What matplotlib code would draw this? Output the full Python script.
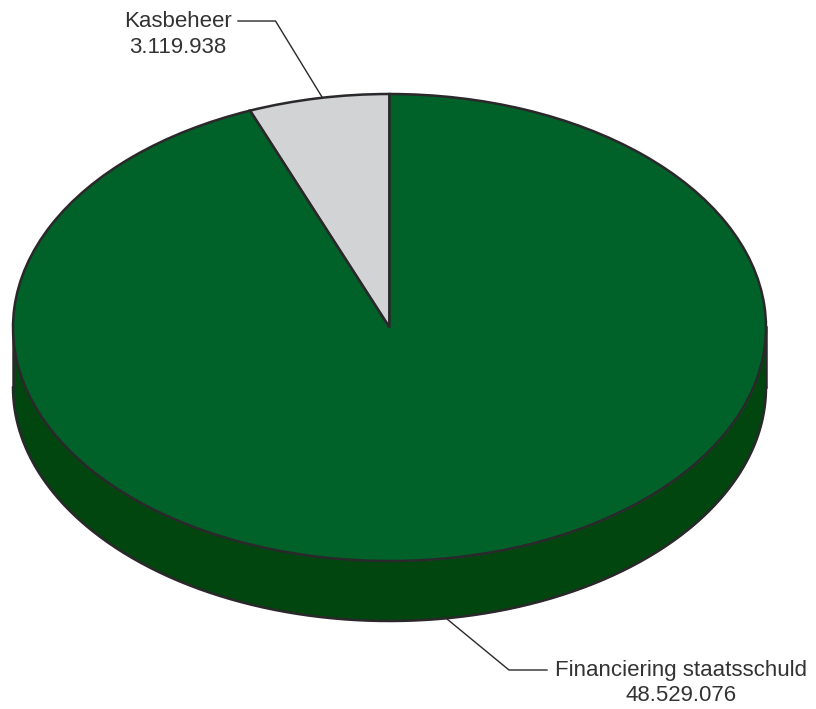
import numpy as np
import matplotlib
matplotlib.use("Agg")
import matplotlib.pyplot as plt

labels = ["Kasbeheer", "Financiering staatsschuld"]
values = [3119938, 48529076]
value_labels = ["3.119.938", "48.529.076"]

TOP_COLORS = ["#d1d3d4", "#006228"]
SIDE_COLOR = "#01450f"
EDGE_COLOR = "#2a282b"
TEXT_COLOR = "#333333"
WIDTH, HEIGHT = 816, 709
CENTER_X, CENTER_Y = 389.5, 327.5
RADIUS_X, RADIUS_Y = 376.5, 233.5
DEPTH = 60 / RADIUS_Y

plt.rcParams["font.family"] = ["Liberation Sans", "DejaVu Sans"]

fig = plt.figure(figsize=(WIDTH / 100, HEIGHT / 100), dpi=100)
ax = fig.add_axes([0, 0, 1, 1])

# side wall of the disc, only the front half shows
theta = np.linspace(np.pi, 2 * np.pi, 400)
ax.fill_between(np.cos(theta), np.sin(theta), np.sin(theta) - DEPTH,
                color=SIDE_COLOR, linewidth=0, zorder=1)
ax.plot(np.cos(theta), np.sin(theta) - DEPTH, color=EDGE_COLOR, lw=1.8, zorder=2)
ax.plot([-1, -1], [0, -DEPTH], color=EDGE_COLOR, lw=1.8, zorder=2)
ax.plot([1, 1], [0, -DEPTH], color=EDGE_COLOR, lw=1.8, zorder=2)

ax.pie(values, colors=TOP_COLORS, startangle=90, radius=1, frame=True,
       wedgeprops={"edgecolor": EDGE_COLOR, "linewidth": 1.8, "zorder": 3})

# pie() forces a round aspect, the flat look comes from unequal axis scales
ax.set_aspect("auto")
ax.set_xlim(-CENTER_X / RADIUS_X, (WIDTH - CENTER_X) / RADIUS_X)
ax.set_ylim(-(HEIGHT - CENTER_Y) / RADIUS_Y, CENTER_Y / RADIUS_Y)
ax.axis("off")


def to_data(px, py):
    return (px - CENTER_X) / RADIUS_X, (CENTER_Y - py) / RADIUS_Y


leader_1 = [to_data(*p) for p in [(322, 97), (275.5, 21), (238, 21)]]
leader_2 = [to_data(*p) for p in [(447, 619), (509, 670), (547, 670)]]
for pts in (leader_1, leader_2):
    xs, ys = zip(*pts)
    ax.plot(xs, ys, color=EDGE_COLOR, lw=1.0, zorder=2)

x, y = to_data(178, 34.5)
ax.text(x, y, labels[0] + "\n" + value_labels[0], ha="center", va="center",
        fontsize=16, color=TEXT_COLOR, linespacing=1.28)
x, y = to_data(681, 683)
ax.text(x, y, labels[1] + "\n" + value_labels[1], ha="center", va="center",
        fontsize=16, color=TEXT_COLOR, linespacing=1.28)

fig.savefig("out.png", dpi=100)
